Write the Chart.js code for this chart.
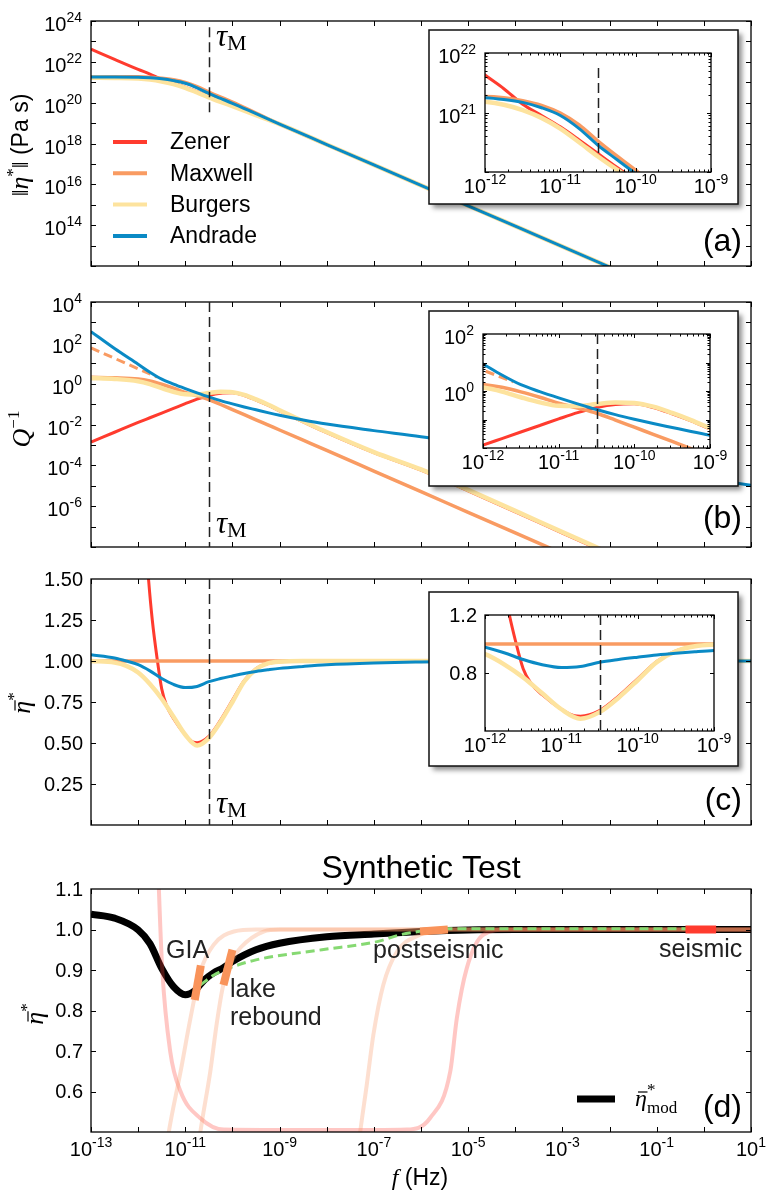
<!DOCTYPE html>
<html>
<head>
<meta charset="utf-8">
<script src="https://cdn.jsdelivr.net/npm/chart.js@4.4.1/dist/chart.umd.min.js"></script>
<style>
  html, body { margin: 0; padding: 0; background: #fff; }
  #page { position: relative; width: 768px; height: 1191px; overflow: hidden; background: #fff; }
  canvas { position: absolute; }
</style>
</head>
<body>
<div id="page">
  <canvas id="chartA" width="768" height="290" style="left:0;top:0"></canvas>
  <canvas id="chartB" width="768" height="275" style="left:0;top:290px"></canvas>
  <canvas id="chartC" width="768" height="275" style="left:0;top:565px"></canvas>
  <canvas id="chartD" width="768" height="351" style="left:0;top:840px"></canvas>
  <canvas id="insetA" width="335" height="200" style="left:420px;top:22px"></canvas>
  <canvas id="insetB" width="335" height="200" style="left:420px;top:303px"></canvas>
  <canvas id="insetC" width="335" height="200" style="left:420px;top:584px"></canvas>
</div>
<script>
// frequencies are stored as log10(f / Hz), log-axis values as log10 too

// (a) |eta*| in Pa s (log10)
const logFreqA = [-13, -12.5, -12, -11.75, -11.5, -11.25, -11, -10.75, -10.5, -10.25, -10, -9.5, -9, -8, -6, -4, -2, -1];
const zenerEta = [22.62, 22.12, 21.63, 21.40, 21.14, 20.95, 20.76, 20.54, 20.31, 20.08, 19.86, 19.40, 18.95, 17.95, 15.95, 13.95, 11.95, 10.95];
const maxwellEta = [21.27, 21.27, 21.27, 21.25, 21.20, 21.12, 20.99, 20.79, 20.52, 20.27, 20.03, 19.49, 18.95, 17.95, 15.95, 13.95, 11.95, 10.95];
const burgersEta = [21.22, 21.21, 21.18, 21.13, 21.04, 20.91, 20.73, 20.50, 20.26, 20.04, 19.83, 19.39, 18.95, 17.95, 15.95, 13.95, 11.95, 10.95];
const andradeEta = [21.26, 21.26, 21.25, 21.22, 21.17, 21.08, 20.95, 20.73, 20.45, 20.21, 19.97, 19.46, 18.95, 17.95, 15.95, 13.95, 11.95, 10.95];

// (b) Q^-1 (log10)
const logFreqB = [-13, -12.5, -12, -11.75, -11.5, -11.25, -11, -10.75, -10.5, -10.25, -10, -9.75, -9.5, -9.25, -9, -8.5, -8, -7, -6, -5, -4, -3, -2, -1, 0, 1];
const andradeQ = [2.55, 1.72, 0.95, 0.56, 0.22, -0.02, -0.24, -0.45, -0.65, -0.83, -0.99, -1.14, -1.28, -1.42, -1.55, -1.78, -1.98, -2.30, -2.60, -2.95, -3.30, -3.63, -3.97, -4.31, -4.65, -4.98];
const maxwellQ = [0.31, 0.29, 0.23, 0.13, -0.03, -0.22, -0.43, -0.60, -0.78, -1.02, -1.27, -1.52, -1.77, -2.02, -2.27, -2.77, -3.27, -4.28, -5.29, -6.30, -7.31, -8.32];
const burgersQ = [0.27, 0.23, 0.12, -0.02, -0.22, -0.40, -0.52, -0.53, -0.46, -0.40, -0.42, -0.55, -0.77, -1.02, -1.30, -1.84, -2.37, -3.35, -4.20, -5.20, -6.23, -7.27, -8.30];
const zenerQ = [-2.86, -2.38, -1.90, -1.67, -1.44, -1.21, -0.98, -0.76, -0.58, -0.47, -0.45, -0.58, -0.80, -1.05, -1.33, -1.87, -2.40, -3.38, -4.24, -5.25, -6.28, -7.32, -8.35];
const logFreqMaxAsym = [-13, -12, -11.6];
const maxwellAsymQ = [1.75, 0.73, 0.32];

// (c) normalised viscosity
const logFreqC = [-13, -12.5, -12.25, -12, -11.75, -11.5, -11.25, -11, -10.75, -10.5, -10.25, -10, -9.75, -9.5, -9.25, -9, -8.5, -8, -7, -6, -5, -4, 1];
const andradeNorm = [1.038, 1.018, 1.0, 0.978, 0.94, 0.893, 0.857, 0.838, 0.845, 0.874, 0.893, 0.909, 0.924, 0.936, 0.946, 0.955, 0.967, 0.977, 0.988, 0.994, 0.998, 1.0, 1.0];
const burgersNorm = [1.0, 0.99, 0.97, 0.93, 0.86, 0.77, 0.66, 0.55, 0.485, 0.53, 0.63, 0.75, 0.875, 0.95, 0.985, 0.996, 1.0, 1.0, 1.0, 1.0, 1.0, 1.0, 1.0];
const logFreqZenerC = [-12, -11.85, -11.78, -11.7, -11.6, -11.5, -11.4, -11.25, -11, -10.83, -10.75, -10.5, -10.25, -10, -9.75, -9.5, -9.25, -9, -8.5, 1];
const zenerNorm = [2.6, 1.78, 1.5, 1.25, 1.02, 0.83, 0.73, 0.65, 0.55, 0.505, 0.502, 0.54, 0.64, 0.76, 0.88, 0.953, 0.985, 0.996, 1.0, 1.0];
const logFreqMaxC = [-13, 1];
const maxwellNorm = [1.0, 1.0];

// (d) synthetic test
const logFreqD = [-13, -12.5, -12, -11.75, -11.5, -11.25, -11, -10.8, -10.6, -10.4, -10.2, -10, -9.5, -9, -8, -7, -6, -5, -4, 1];
const modelNorm = [1.038, 1.028, 0.999, 0.965, 0.904, 0.859, 0.839, 0.849, 0.875, 0.893, 0.905, 0.921, 0.95, 0.966, 0.982, 0.989, 0.995, 0.999, 1.0, 1.0];
const logFreqFit = [-10.68, -10.4, -10.04, -9.5, -8.1, -6.93, -6.44, -6.0, -5.6, -0.23];
const fitNorm = [0.863, 0.887, 0.906, 0.925, 0.95, 0.97, 0.987, 0.996, 1.002, 1.002];
const logFreqP1 = [-11.75, -11.56, -11.49, -11.32, -11.1, -10.68, -10.19, -9, -7, -6.3, -5.81, -5.38, -5.24, -5.03, -4.68, -4.18, 1];
const p1Norm = [1.8, 1.1, 0.904, 0.699, 0.6, 0.534, 0.506, 0.505, 0.505, 0.506, 0.534, 0.649, 0.781, 0.904, 0.987, 1.0, 1.0];
const logFreqP2 = [-11.6, -11.35, -11.1, -10.89, -10.68, -10.4, -9.97, -9.5, 1];
const p2Norm = [0.3, 0.5, 0.649, 0.781, 0.896, 0.962, 0.995, 1.0, 1.0];
const logFreqP3 = [-10.9, -10.68, -10.47, -10.33, -10.2, -10.0, -9.83, -9.34, -9.0, 1];
const p3Norm = [0.3, 0.5, 0.649, 0.77, 0.86, 0.925, 0.955, 0.995, 1.0, 1.0];
const logFreqP4 = [-7.5, -7.29, -7.15, -7.01, -6.8, -6.51, -6.02, -5.6, 1];
const p4Norm = [0.3, 0.5, 0.617, 0.74, 0.863, 0.945, 0.987, 1.0, 1.0];
const logFreqGIA = [-10.8, -10.67], giaNorm = [0.826, 0.911];
const logFreqLake = [-10.19, -10.0], lakeNorm = [0.863, 0.95];
const logFreqPost = [-6.02, -5.43], postNorm = [0.995, 1.0];
const logFreqSeis = [-0.39, 0.26], seisNorm = [1.0, 1.0];

const logTauM = -10.5;

// tick labels
const etaTickExps = [14, 16, 18, 20, 22, 24];
const qTickExps = [-6, -4, -2, 0, 2, 4];
const normTicks = ['0.25', '0.50', '0.75', '1.00', '1.25', '1.50'];
const synthTicks = ['0.6', '0.7', '0.8', '0.9', '1.0', '1.1'];
const freqTickExps = [-13, -11, -9, -7, -5, -3, -1, 1];
const insetFreqExps = [-12, -11, -10, -9];
const legendNames = ['Zener', 'Maxwell', 'Burgers', 'Andrade'];

const SANS = '"Liberation Sans", Arial, sans-serif';
const SERIF = '"Liberation Serif", "DejaVu Serif", serif';
const RED = '#ff3b2e', ORANGE = '#f99b62', YELLOW = '#fde39e', BLUE = '#0a8ac5';
const PINK_RED = 'rgba(255,70,60,0.3)', PINK_OR = 'rgba(249,150,100,0.3)';
const GREEN = '#86d972', MARK = '#f9935a';
const TICK_FONT = 20;

function pts(logF, vals, logY) {
  return vals.map((v, i) => ({ x: Math.pow(10, logF[i]), y: logY ? Math.pow(10, v) : v }));
}
function curve(data, color, width, order, dash, straight) {
  return {
    data, borderColor: color, backgroundColor: color, borderWidth: width, borderDash: dash || [],
    pointRadius: 0, fill: false, order, clip: 0,
    cubicInterpolationMode: straight ? 'default' : 'monotone', tension: 0
  };
}
function decades(a, b) { const r = []; for (let e = a; e <= b; e++) r.push(Math.pow(10, e)); return r; }
function minors(a, b) { const r = []; for (let e = a; e < b; e++) for (let k = 2; k <= 9; k++) r.push(k * Math.pow(10, e)); return r; }

function powLabel(c, exp, x, y, align, size) {
  const base = '10', sup = String(exp);
  c.font = size + 'px ' + SANS; const wb = c.measureText(base).width;
  const ss = Math.round(size * 0.72);
  c.font = ss + 'px ' + SANS; const ws = c.measureText(sup).width;
  const x0 = align === 'right' ? x - wb - ws : x - (wb + ws) / 2;
  c.textAlign = 'left'; c.textBaseline = 'alphabetic';
  c.font = size + 'px ' + SANS; c.fillText(base, x0, y + size * 0.5);
  c.font = ss + 'px ' + SANS; c.fillText(sup, x0 + wb, y + size * 0.06);
}

// draws a run of text pieces: {t, f, dy, bar, adv}
function run(c, parts, x, y, align) {
  let w = 0;
  parts.forEach(p => { c.font = p.f; p.w = c.measureText(p.t).width; if (p.adv !== false) w += p.w; });
  let cx = align === 'center' ? x - w / 2 : (align === 'right' ? x - w : x);
  c.textAlign = 'left'; c.textBaseline = 'alphabetic';
  parts.forEach(p => {
    c.font = p.f; c.fillText(p.t, cx, y + (p.dy || 0));
    if (p.bar) {
      c.save(); c.lineWidth = 1.2; c.beginPath();
      c.moveTo(cx + p.w * 0.25, y - p.bar); c.lineTo(cx + p.w * 1.05, y - p.bar); c.stroke(); c.restore();
    }
    if (p.adv !== false) cx += p.w;
  });
}
function rotLabel(c, parts, x, y) {
  c.save(); c.translate(x, y); c.rotate(-Math.PI / 2); run(c, parts, 0, 7, 'center'); c.restore();
}
function tauLabel(c, x, y) {
  run(c, [{ t: 'τ', f: 'italic 31px ' + SERIF }, { t: 'M', f: '22px ' + SERIF, dy: 4 }], x, y, 'left');
}
function vdash(c, a, sx, sy, y0, y1) {
  const x = Math.round(sx.getPixelForValue(Math.pow(10, logTauM))) + 0.5;
  const p0 = y0 == null ? a.top : sy.getPixelForValue(y0);
  const p1 = y1 == null ? a.bottom : sy.getPixelForValue(y1);
  c.save(); c.strokeStyle = '#222'; c.lineWidth = 1.5; c.setLineDash([10, 5]);
  c.beginPath(); c.moveTo(x, p0); c.lineTo(x, p1); c.stroke(); c.restore();
}
function panelTag(c, t, y) {
  c.font = '32px ' + SANS; c.textAlign = 'right'; c.textBaseline = 'alphabetic'; c.fillStyle = '#000';
  c.fillText(t, 742, y);
}
const etaBar = (size) => ({ t: 'η', f: 'italic ' + size + 'px ' + SERIF, bar: Math.round(size * 0.58) });

function decor(o) {
  return {
    id: 'decor',
    beforeDraw(chart) {
      if (!o.box) return;
      const c = chart.ctx, b = o.box;
      c.save();
      c.shadowColor = 'rgba(0,0,0,0.45)'; c.shadowBlur = 5; c.shadowOffsetX = 4; c.shadowOffsetY = 4;
      c.fillStyle = '#fff'; c.fillRect(b[0], b[1], b[2], b[3]);
      c.restore();
      c.save(); c.lineWidth = 1.5; c.strokeStyle = '#111'; c.strokeRect(b[0], b[1], b[2], b[3]); c.restore();
    },
    afterDatasetsDraw(chart) {
      const c = chart.ctx, a = chart.chartArea, sx = chart.scales.x, sy = chart.scales.y;
      c.save();
      c.strokeStyle = '#000'; c.fillStyle = '#000'; c.lineWidth = 1;
      const big = o.tickLen || 5, small = 2.5;
      c.beginPath();
      const xt = (vals, len) => vals.forEach(v => {
        const p = Math.round(sx.getPixelForValue(v)) + 0.5;
        c.moveTo(p, a.top); c.lineTo(p, a.top + len); c.moveTo(p, a.bottom); c.lineTo(p, a.bottom - len);
      });
      const yt = (vals, len) => vals.forEach(v => {
        const p = Math.round(sy.getPixelForValue(v)) + 0.5;
        c.moveTo(a.left, p); c.lineTo(a.left + len, p); c.moveTo(a.right, p); c.lineTo(a.right - len, p);
      });
      xt(o.xTicks || [], big); xt(o.xMinor || [], small);
      yt(o.yTicks || [], big); yt(o.yMinor || [], small);
      c.stroke();
      c.lineWidth = 1.3;
      c.strokeRect(a.left, a.top, a.right - a.left, a.bottom - a.top);
      const fs = o.fontSize || TICK_FONT;
      (o.xPow || []).forEach(e => powLabel(c, e, sx.getPixelForValue(Math.pow(10, e)), a.bottom + o.xGap, 'center', fs));
      (o.yPow || []).forEach(e => powLabel(c, e, a.left - 9, sy.getPixelForValue(Math.pow(10, e)), 'right', fs));
      (o.yText || []).forEach(t => {
        c.font = fs + 'px ' + SANS; c.textAlign = 'right'; c.textBaseline = 'middle';
        c.fillText(t, a.left - 8, sy.getPixelForValue(parseFloat(t)) + 1);
      });
      if (o.extra) o.extra(c, a, sx, sy);
      c.restore();
    }
  };
}

function options(pad, xr, yType, yr) {
  return {
    responsive: false, animation: false, events: [],
    layout: { padding: pad },
    plugins: { legend: { display: false }, tooltip: { enabled: false } },
    scales: {
      x: { type: 'logarithmic', min: xr[0], max: xr[1], display: false },
      y: { type: yType, min: yr[0], max: yr[1], display: false }
    }
  };
}
function make(id, datasets, opts, deco) {
  return new Chart(document.getElementById(id), { type: 'line', data: { datasets }, options: opts, plugins: [decor(deco)] });
}

const etaSets = () => [
  curve(pts(logFreqA, andradeEta, true), BLUE, 3, 0),
  curve(pts(logFreqA, burgersEta, true), YELLOW, 4.5, 1),
  curve(pts(logFreqA, maxwellEta, true), ORANGE, 3.5, 2),
  curve(pts(logFreqA, zenerEta, true), RED, 3, 3)
];
const qSets = () => [
  curve(pts(logFreqB, andradeQ, true), BLUE, 3, 0),
  curve(pts(logFreqB, burgersQ, true), YELLOW, 4.5, 1),
  curve(pts(logFreqB, maxwellQ, true), ORANGE, 3.5, 2),
  curve(pts(logFreqMaxAsym, maxwellAsymQ, true), ORANGE, 3, 2, [9, 5], true),
  curve(pts(logFreqB, zenerQ, true), RED, 3, 3)
];
const normSets = () => [
  curve(pts(logFreqC, andradeNorm), BLUE, 3, 0),
  curve(pts(logFreqC, burgersNorm), YELLOW, 4.5, 1),
  curve(pts(logFreqMaxC, maxwellNorm), ORANGE, 3.5, 2, null, true),
  curve(pts(logFreqZenerC, zenerNorm), RED, 3, 3)
];

const fullX = [1e-13, 10];
const mainPad = (t, b) => ({ left: 91, right: 17, top: t, bottom: b });

// (a)
make('chartA', etaSets(), options(mainPad(21, 24), fullX, 'logarithmic', [1e12, 1e24]), {
  xTicks: decades(-13, 1), yTicks: decades(12, 24), yPow: etaTickExps,
  extra(c, a, sx, sy) {
    vdash(c, a, sx, sy, Math.pow(10, 23.7), Math.pow(10, 19.5));
    tauLabel(c, 216, 46);
    const cols = [RED, ORANGE, YELLOW, BLUE];
    legendNames.forEach((n, i) => {
      const y = 142 + i * 31.3;
      c.strokeStyle = cols[i]; c.lineWidth = 4; c.beginPath(); c.moveTo(113, y); c.lineTo(147, y); c.stroke();
      c.fillStyle = '#000'; c.font = '23px ' + SANS; c.textAlign = 'left'; c.textBaseline = 'middle';
      c.fillText(n, 170, y + 1);
    });
    panelTag(c, '(a)', 251);
    rotLabel(c, [{ t: '‖', f: '24px ' + SERIF }, { t: 'η', f: 'italic 26px ' + SERIF },
      { t: '*', f: '17px ' + SERIF, dy: -10 }, { t: '‖', f: '24px ' + SERIF }, { t: ' (Pa s)', f: '23px ' + SANS }], 21, 145);
  }
});

// (b)
make('chartB', qSets(), options(mainPad(12, 18), fullX, 'logarithmic', [1e-8, 1e4]), {
  xTicks: decades(-13, 1), yTicks: decades(-8, 4), yPow: qTickExps,
  extra(c, a, sx, sy) {
    vdash(c, a, sx, sy);
    tauLabel(c, 216, 243);
    panelTag(c, '(b)', 238);
    rotLabel(c, [{ t: 'Q', f: 'italic 26px ' + SERIF }, { t: '−1', f: '17px ' + SERIF, dy: -11 }], 23, 139);
  }
});

// (c)
make('chartC', normSets(), options(mainPad(14, 15), fullX, 'linear', [0, 1.5]), {
  xTicks: decades(-13, 1), yTicks: [0.25, 0.5, 0.75, 1, 1.25], yText: normTicks,
  extra(c, a, sx, sy) {
    vdash(c, a, sx, sy);
    tauLabel(c, 216, 248);
    panelTag(c, '(c)', 245);
    rotLabel(c, [etaBar(26), { t: '*', f: '17px ' + SERIF, dy: -11 }], 23, 138);
  }
});

// (d)
make('chartD', [
  curve(pts(logFreqSeis, seisNorm), RED, 8, 0, null, true),
  curve(pts(logFreqPost, postNorm), MARK, 8, 0, null, true),
  curve(pts(logFreqLake, lakeNorm), MARK, 8, 0, null, true),
  curve(pts(logFreqGIA, giaNorm), MARK, 8, 0, null, true),
  curve(pts(logFreqFit, fitNorm), GREEN, 3, 1, [9, 5]),
  curve(pts(logFreqP4, p4Norm), PINK_OR, 4, 2),
  curve(pts(logFreqP3, p3Norm), PINK_OR, 4, 3),
  curve(pts(logFreqP2, p2Norm), PINK_OR, 4, 4),
  curve(pts(logFreqP1, p1Norm), PINK_RED, 4, 5),
  curve(pts(logFreqD, modelNorm), '#000', 7, 9)
], options(mainPad(49, 59), fullX, 'linear', [0.5, 1.1]), {
  xTicks: decades(-13, 1), yTicks: [0.6, 0.7, 0.8, 0.9, 1.0], yText: synthTicks,
  xPow: freqTickExps, xGap: 13.5,
  extra(c, a, sx, sy) {
    c.fillStyle = '#000';
    c.font = '32px ' + SANS; c.textAlign = 'center'; c.textBaseline = 'alphabetic';
    c.fillText('Synthetic Test', 421, 38);
    c.fillStyle = '#222'; c.font = '25px ' + SANS; c.textAlign = 'left';
    c.fillText('GIA', 166, 118);
    c.fillText('lake', 230, 157);
    c.fillText('rebound', 230, 185);
    c.fillText('postseismic', 373, 118);
    c.fillText('seismic', 659, 117);
    c.strokeStyle = '#000'; c.lineWidth = 7; c.beginPath(); c.moveTo(577, 259); c.lineTo(615, 259); c.stroke();
    c.fillStyle = '#000';
    run(c, [etaBar(24), { t: '*', f: '17px ' + SERIF, dy: -11, adv: false }, { t: 'mod', f: '17px ' + SERIF, dy: 7 }], 635, 266, 'left');
    panelTag(c, '(d)', 277);
    rotLabel(c, [etaBar(26), { t: '*', f: '17px ' + SERIF, dy: -11 }], 36, 174);
    run(c, [{ t: 'f', f: 'italic 24px ' + SERIF }, { t: ' (Hz)', f: '23px ' + SANS }], 420, 345, 'center');
  }
});

// insets
const insetX = [1e-12, 1e-9];
make('insetA', etaSets(), options({ left: 65, right: 44, top: 31, bottom: 50 }, insetX, 'logarithmic', [1e20, 1e22]), {
  box: [9, 8, 309, 174], tickLen: 4,
  xTicks: decades(-12, -9), xMinor: minors(-12, -9), yTicks: decades(20, 22), yMinor: minors(20, 22),
  xPow: insetFreqExps, xGap: 10.5, yPow: [21, 22],
  extra(c, a, sx, sy) { vdash(c, a, sx, sy, Math.pow(10, 21.75), Math.pow(10, 20.32)); }
});
make('insetB', qSets(), options({ left: 63, right: 45, top: 31, bottom: 55 }, insetX, 'logarithmic', [1e-2, 1e2]), {
  box: [9, 8, 309, 175], tickLen: 4,
  xTicks: decades(-12, -9), xMinor: minors(-12, -9), yTicks: decades(-2, 2), yMinor: minors(-2, 2),
  xPow: insetFreqExps, xGap: 10.5, yPow: [0, 2],
  extra(c, a, sx, sy) { vdash(c, a, sx, sy); }
});
make('insetC', normSets(), options({ left: 65, right: 41, top: 31, bottom: 53 }, insetX, 'linear', [0.4, 1.2]), {
  box: [9, 8, 309, 174], tickLen: 4,
  xTicks: decades(-12, -9), xMinor: minors(-12, -9), yTicks: [0.8, 1.2],
  xPow: insetFreqExps, xGap: 10.5, yText: ['0.8', '1.2'],
  extra(c, a, sx, sy) { vdash(c, a, sx, sy); }
});
</script>
</body>
</html>
